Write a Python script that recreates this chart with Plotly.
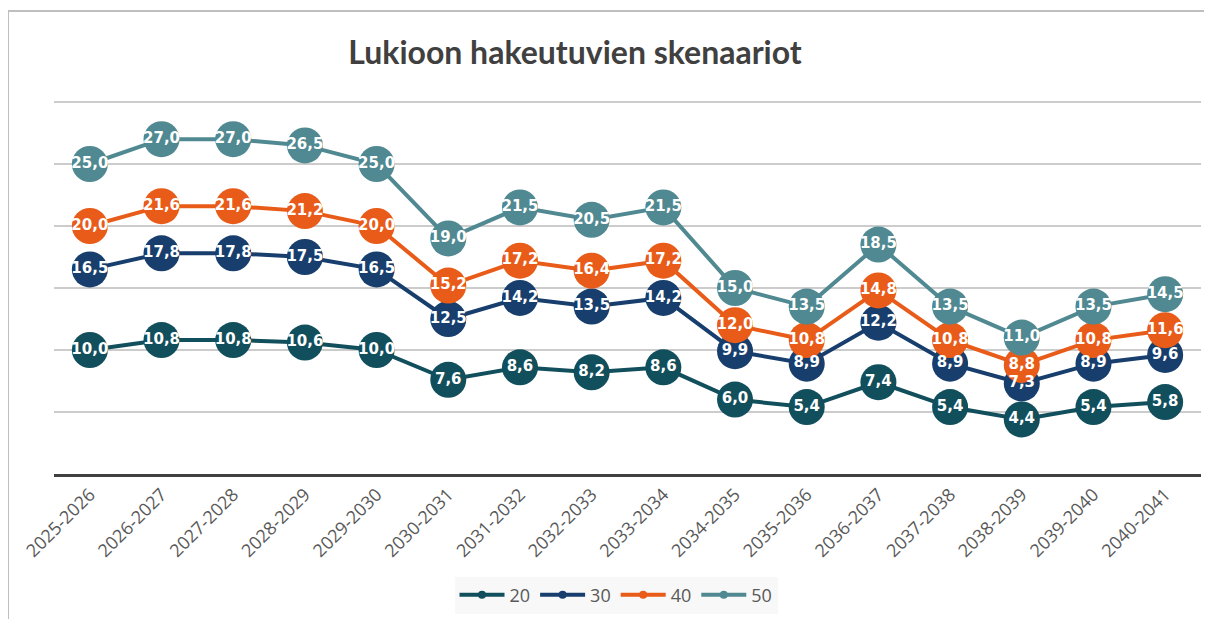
import plotly.graph_objects as go

categories = ["2025-2026", "2026-2027", "2027-2028", "2028-2029", "2029-2030",
              "2030-2031", "2031-2032", "2032-2033", "2033-2034", "2034-2035",
              "2035-2036", "2036-2037", "2037-2038", "2038-2039", "2039-2040",
              "2040-2041"]

s20 = [10.0, 10.8, 10.8, 10.6, 10.0, 7.6, 8.6, 8.2, 8.6, 6.0, 5.4, 7.4, 5.4, 4.4, 5.4, 5.8]
s30 = [16.5, 17.8, 17.8, 17.5, 16.5, 12.5, 14.2, 13.5, 14.2, 9.9, 8.9, 12.2, 8.9, 7.3, 8.9, 9.6]
s40 = [20.0, 21.6, 21.6, 21.2, 20.0, 15.2, 17.2, 16.4, 17.2, 12.0, 10.8, 14.8, 10.8, 8.8, 10.8, 11.6]
s50 = [25.0, 27.0, 27.0, 26.5, 25.0, 19.0, 21.5, 20.5, 21.5, 15.0, 13.5, 18.5, 13.5, 11.0, 13.5, 14.5]

series_names = ["20", "30", "40", "50"]
series_values = [s20, s30, s40, s50]
colors = ["#124F5C", "#173E6C", "#E95B19", "#508991"]

# the page body adds an 8px offset; figure coords = screen coords - 8
OFF = 8
W, H = 1212 - OFF, 619 - OFF
Y_TOP = 30 + 4 / 12.4          # a little headroom so the 30 gridline is drawn
ML, MR, MT, MB = 54 - OFF, 11, 102 - OFF - 4, 145
PW, PH = W - ML - MR, H - MT - MB

def px_x(p):
    return (p - OFF - ML) / PW

def px_y(p):
    return (H - MB - (p - OFF)) / PH

fig = go.Figure()

# lines and markers
for name, vals, col in zip(series_names, series_values, colors):
    fig.add_trace(go.Scatter(
        x=categories, y=vals, mode="lines+markers", name=name,
        line=dict(color=col, width=4),
        marker=dict(color=col, size=36),
        showlegend=False, cliponaxis=False, hoverinfo="skip"))

# data labels on top of everything
for name, vals, col in zip(series_names, series_values, colors):
    fig.add_trace(go.Scatter(
        x=categories, y=vals, mode="text", text=vals,
        texttemplate="%{text:.1f}", textposition="middle center",
        textfont=dict(family="DejaVu Sans", size=15, color="white", weight="bold"),
        showlegend=False, cliponaxis=False, hoverinfo="skip"))

# legend entries
for name, col in zip(series_names, colors):
    fig.add_trace(go.Scatter(
        x=[None], y=[None], mode="lines+markers", name=name,
        line=dict(color=col, width=4), marker=dict(color=col, size=8)))

fig.update_layout(
    template="none",
    width=W, height=H,
    margin=dict(l=ML, r=MR, t=MT, b=MB, autoexpand=False),
    paper_bgcolor="white", plot_bgcolor="white",
    separators=", ",
    title=dict(text="<b>Lukioon hakeutuvien skenaariot</b>",
               x=(575 - OFF) / W, xanchor="center", xref="container",
               y=1 - (53 - OFF) / H, yanchor="middle", yref="container",
               font=dict(family="Lato", size=32, color="#404040")),
    xaxis=dict(type="category", range=[-0.5, len(categories) - 0.5],
               tickangle=-45, showgrid=False, automargin=False,
               showline=True, linecolor="#404040", linewidth=3,
               ticks="", tickfont=dict(family="Open Sans", size=18, color="#595959"),
               fixedrange=True),
    yaxis=dict(range=[0, Y_TOP], tick0=0, dtick=5, showticklabels=False, automargin=False,
               showgrid=True, gridcolor="#cccccc", gridwidth=1.5,
               zeroline=False, showline=False, fixedrange=True),
    legend=dict(orientation="h", x=px_x(616), xanchor="center",
                y=px_y(595), yanchor="middle", bgcolor="#f8f8f8",
                font=dict(family="Open Sans", size=18, color="#595959"),
                itemwidth=45, traceorder="normal"),
    shapes=[dict(type="rect", xref="paper", yref="paper",
                 x0=px_x(8), x1=px_x(1212 + 5), y0=px_y(619 + 5), y1=px_y(11),
                 line=dict(color="#bfbfbf", width=2), fillcolor="rgba(0,0,0,0)",
                 layer="below")],
)

fig.write_html("out.html")
